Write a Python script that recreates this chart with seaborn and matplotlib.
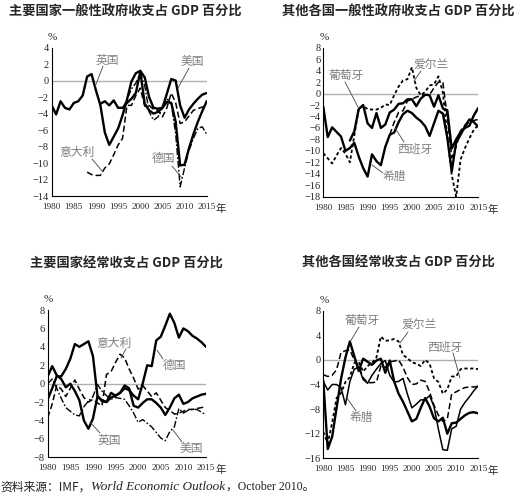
import numpy as np
import pandas as pd
import matplotlib
matplotlib.use("Agg")
import matplotlib.pyplot as plt
from matplotlib.lines import Line2D
import seaborn as sns

# --- data (percent of GDP) ---
years = list(range(1980, 2016))

# general government balance, major countries
gov_uk = [-3.0, -4.1, -2.5, -3.3, -3.5, -2.7, -2.5, -1.8, 0.5, 0.8,
          -1.2, -3.0, -6.3, -7.8, -6.8, -5.8, -4.2, -2.3, -0.1, 0.9,
          1.2, 0.4, -2.0, -3.3, -3.4, -3.3, -2.6, -2.7, -5.0, -10.3,
          -10.2, -8.2, -6.5, -5.0, -3.7, -2.5]
gov_de = [-2.8, -2.5, -3.0, -2.4, -3.3, -3.3, -2.7, -2.2, -1.5,
          1.1, -2.8, -3.6, -4.0, -3.8, -3.3, -1.6, 0.2, 0.0, -3.0,
          -4.5, -3.5, -2.8, -2.2, -1.7, -1.5]  # from 1991
gov_it = [-11.1, -11.4, -11.5, -11.5, -10.6, -10.1, -9.0, -7.8, -7.0, -3.0,
          -3.0, -1.8, -0.9, -3.1, -3.0, -3.5, -3.6, -4.4, -3.3, -1.5,
          -2.7, -5.2, -5.0, -4.3, -3.6, -3.4, -3.2, -3.1]  # from 1988
gov_us = [-3.4, -2.3, -1.0, -0.3, 0.9, -0.6, -3.8, -4.8, -4.4, -3.3,
          -2.2, -2.8, -6.5, -12.9, -10.6, -8.5, -7.0, -5.8, -5.6, -6.5]  # from 1996

# general government balance, other countries
gov_gr = [-2.3, -7.6, -5.9, -6.7, -7.5, -10.0, -9.5, -8.6, -11.0, -13.0,
          -14.5, -10.6, -11.8, -12.5, -9.3, -7.2, -6.8, -5.0, -3.6, -3.0,
          -3.4, -4.2, -4.8, -5.7, -7.4, -5.2, -3.0, -3.5, -7.7, -13.6,
          -8.5, -7.2, -5.7, -4.5, -5.0, -5.8]
gov_pt = [-8.2, -6.6, -2.7, -2.0,
          -5.2, -6.0, -3.4, -6.0, -5.4, -3.3, -2.8, -1.8, -1.7, -1.0,
          -1.0, -2.2, -0.9, -0.2, -0.3, -2.3, -0.3, -2.6, -2.9, -9.6,
          -8.0, -6.7, -6.0, -5.6, -3.8, -2.5]  # from 1986
gov_es = [-7.2, -5.0, -3.3, -3.0, -1.3,
          -1.0, -0.6, -0.4, -0.2, -0.2, 1.0, 2.0, 1.9, -4.1, -11.2,
          -9.3, -6.5, -5.5, -5.0, -4.7, -4.5]  # from 1995
gov_ie = [-10.4, -11.3, -12.2, -10.8, -9.5, -10.5, -12.0, -7.3, -2.6, -2.2,
          -2.7, -2.8, -2.8, -2.5, -1.9, -2.0, -0.3, 1.2, 2.3, 2.5,
          4.6, 1.0, -0.3, 0.3, 1.4, 1.6, 3.0, 0.2, -7.3, -14.2,
          -18.0, -11.5, -9.5, -7.8, -6.3, -5.5]

# current account, major countries
ca_de = [-1.7, -0.5, 0.8, 0.8, 1.6, 2.7, 4.3, 4.0, 4.3, 4.6,
         3.0, -1.3, -1.9, -2.0, -1.5, -1.3, -1.0, -0.5, -0.7, -1.3,
         -1.7, 0.0, 2.0, 1.9, 4.7, 5.1, 6.3, 7.6, 6.6, 5.0,
         6.0, 5.7, 5.2, 4.9, 4.5, 4.0]
ca_uk = [0.8, 1.9, 0.9, 0.5, -0.4, 0.0, -0.8, -1.8, -4.0, -4.9,
         -3.8, -1.4, -1.8, -2.0, -1.0, -1.3, -1.0, -0.2, -0.5, -2.4,
         -2.6, -2.1, -1.7, -1.7, -2.1, -2.6, -3.4, -2.6, -1.6, -1.2,
         -2.2, -2.0, -1.6, -1.4, -1.2, -1.1]
ca_it = [-3.7, -2.2, -0.2, -0.6, -1.4, -0.5, 0.4, -0.6, -1.5, -2.0,
         -1.7, -2.1, -2.4, 1.0, 1.3, 2.3, 3.2, 2.8, 1.6, 0.6,
         -0.6, -0.2, -0.8, -1.4, -1.0, -1.8, -2.6, -2.9, -3.3, -3.2,
         -3.0, -2.8, -2.8, -2.7, -2.6, -2.5]
ca_us = [0.0, 0.5, -0.5, -1.6, -2.6, -3.0, -3.4, -3.5, -2.5, -1.9,
         -1.4, -0.1, -0.8, -1.3, -1.7, -1.5, -1.6, -1.7, -2.4, -3.2,
         -4.2, -3.9, -4.3, -4.7, -5.3, -5.9, -6.2, -5.2, -4.7, -2.7,
         -3.2, -2.9, -2.8, -2.8, -3.1, -3.4]

# current account, other countries
ca_pt = [-3.4, -14.5, -12.5, -7.8, -3.1, 0.4, 3.0, 0.6, -1.8, 0.2,
         -0.3, -0.8, -0.1, 0.2, -2.1, -0.1, -3.5, -5.5, -6.8, -8.4,
         -10.0, -9.6, -7.8, -6.2, -7.6, -9.5, -10.0, -9.4, -12.0, -10.3,
         -10.2, -9.6, -9.0, -8.6, -8.5, -8.7]
ca_gr = [-3.5, -4.9, -4.0, -4.0, -4.5, -7.3, -3.5, -1.5, -1.2, -3.2,
         -3.8, -2.5, -1.5, -0.6, -0.1, -2.5, -3.6, -3.5, -3.0, -5.6,
         -7.8, -7.2, -6.5, -6.5, -5.8, -7.6, -11.3, -14.6, -14.7, -11.2,
         -10.8, -8.0, -6.9, -6.0, -5.0, -4.2]
ca_es = [-2.4, -2.7, -2.5, -1.6, 1.2, 1.5, 1.6, 0.0, -1.0, -2.9,
         -3.7, -3.7, -3.6, -1.0, -1.2, -0.3, -0.2, 0.0, -1.2, -2.9,
         -4.0, -3.9, -3.3, -3.5, -5.2, -7.4, -9.0, -10.0, -9.6, -5.5,
         -5.2, -4.8, -4.5, -4.4, -4.4, -4.3]
ca_ie = [-11.7, -13.6, -10.2, -6.2, -5.4, -3.6, -2.8, -0.5, -0.3, -1.9,
         -1.0, -0.5, 0.4, 3.8, 3.1, 3.2, 3.4, 3.0, 0.8, 0.3,
         -0.4, -0.6, -1.0, 0.0, -0.6, -3.0, -3.6, -5.5, -4.8, -2.7,
         -2.7, -1.5, -1.4, -1.4, -1.4, -1.5]

titles = ["主要国家一般性政府收支占 GDP 百分比", "其他各国一般性政府收支占 GDP 百分比",
          "主要国家经常收支占 GDP 百分比", "其他各国经常收支占 GDP 百分比"]
source_cn = "资料来源：IMF，"
source_it = "World Economic Outlook"
source_end = "，October 2010。"

# --- style ---
sns.set_theme(style="white")
CJK = ["Noto Sans CJK SC", "DejaVu Sans"]
plt.rcParams["font.family"] = CJK
plt.rcParams["axes.unicode_minus"] = True

W, H = 520, 494
fig = plt.figure(figsize=(W / 100, H / 100), dpi=100)
fig.patch.set_facecolor("white")


def px(x, y):
    return x / W, 1 - y / H


SOLID_THICK = dict(linestyle="-", lw=1.7)
SOLID = dict(linestyle="-", lw=1.1)
DASHED = dict(linestyle=(0, (4, 2)), lw=1.1)
DASHDOT = dict(linestyle=(0, (5, 1.5, 1.2, 1.5)), lw=1.0)
DOTTED = dict(linestyle=(0, (1.8, 1.4)), lw=1.3)

panels = [
    dict(box=(51.7, 47.7, 206.7, 196.0), ylim=(-14, 4), step=2, title_xy=(125, 12),
         series=[(1980, gov_uk, SOLID_THICK), (1991, gov_de, SOLID_THICK),
                 (1988, gov_it, DASHED), (1996, gov_us, DASHDOT)],
         labels=[("英国", 107, 60, (103, 66), (95, 87)),
                 ("美国", 192, 62, (189, 68), (178, 88)),
                 ("意大利", 77, 152, (92, 159), (103, 172)),
                 ("德国", 163, 158, (172, 166), (182, 178))]),
    dict(box=(323.3, 47.7, 478.3, 196.7), ylim=(-18, 8), step=2, title_xy=(398, 12),
         series=[(1980, gov_gr, SOLID_THICK), (1986, gov_pt, SOLID_THICK),
                 (1995, gov_es, DASHED), (1980, gov_ie, DOTTED)],
         labels=[("葡萄牙", 346, 75, (345, 82), (358, 107)),
                 ("爱尔兰", 431, 65, (421, 71), (414, 81)),
                 ("西班牙", 415, 149, (404, 142), (395, 128)),
                 ("希腊", 394, 176, (383, 173), (372, 165))]),
    dict(box=(47.7, 310.0, 206.0, 457.3), ylim=(-8, 8), step=2, title_xy=(126, 264),
         series=[(1980, ca_de, SOLID_THICK), (1980, ca_uk, SOLID_THICK),
                 (1980, ca_it, DASHED), (1980, ca_us, DASHDOT)],
         labels=[("意大利", 114, 343, (126, 349), (121, 358)),
                 ("德国", 174, 365, (163, 359), (157, 350)),
                 ("英国", 109, 440, (100, 433), (90, 422)),
                 ("美国", 191, 448, (182, 442), (173, 430))]),
    dict(box=(323.3, 310.7, 478.3, 458.3), ylim=(-16, 8), step=4, title_xy=(398, 263),
         series=[(1980, ca_pt, SOLID_THICK), (1980, ca_gr, SOLID),
                 (1980, ca_es, DASHED), (1980, ca_ie, DOTTED)],
         labels=[("葡萄牙", 362, 320, (359, 327), (350, 342)),
                 ("爱尔兰", 419, 325, (408, 332), (400, 343)),
                 ("西班牙", 445, 347, (453, 353), (460, 378)),
                 ("希腊", 361, 417, (356, 411), (347, 398))]),
]

for i, p in enumerate(panels):
    x0, y0, x1, y1 = p["box"]
    ax = fig.add_axes([x0 / W, 1 - y1 / H, (x1 - x0) / W, (y1 - y0) / H])
    ax.set_facecolor("white")

    # zero reference line
    ax.axhline(0, color="#b0b0b0", lw=1.0, zorder=1)

    for start, vals, st in p["series"]:
        df = pd.DataFrame({"year": years[years.index(start):years.index(start) + len(vals)],
                           "value": vals})
        sns.lineplot(data=df, x="year", y="value", ax=ax, color="black",
                     linestyle=st["linestyle"], lw=st["lw"], zorder=3)

    ymin, ymax = p["ylim"]
    ax.set_xlim(1980, 2015)
    ax.set_ylim(ymin, ymax)
    ax.set_xticks(range(1980, 2016, 5))
    ax.set_yticks(np.arange(ymin, ymax + 1, p["step"]))
    ax.set_xlabel("")
    ax.set_ylabel("")
    for s in ["top", "right"]:
        ax.spines[s].set_visible(False)
    for s in ["left", "bottom"]:
        ax.spines[s].set_color("black")
        ax.spines[s].set_linewidth(0.8)
    ax.tick_params(direction="in", length=3, width=0.7, color="black", pad=2)
    ax.tick_params(axis="x", labelsize=6.6, pad=5)
    ax.tick_params(axis="y", labelsize=7.5)
    for lab in ax.get_xticklabels() + ax.get_yticklabels():
        lab.set_family("Liberation Serif")
    ax.grid(False)

    # unit marks
    fig.text(*px(x0 + 1, y0 - 10), "%", ha="center", va="center",
             fontsize=8, family="Liberation Serif")
    fig.text(*px(x1 + 9, y1 + 13), "年", ha="left", va="center",
             fontsize=7.5, family=CJK)

    # titles
    fig.text(*px(*p["title_xy"]), titles[i], ha="center", va="center",
             fontsize=9.5, fontweight="bold", family=CJK)

    # in-chart labels with leader lines
    for txt, lx, ly, a, b in p["labels"]:
        fig.text(*px(lx, ly), txt, ha="center", va="center", fontsize=8.5,
                 color="#808080", family=CJK)
        fig.add_artist(Line2D([a[0] / W, b[0] / W], [1 - a[1] / H, 1 - b[1] / H],
                              transform=fig.transFigure, color="#444444", lw=0.6))

# source line, pieces chained one after another
renderer = fig.canvas.get_renderer()
xcur = 0.0
for txt, kw in [(source_cn, dict(fontsize=8.5, family=CJK)),
                (source_it, dict(fontsize=9.5, family="Liberation Serif", style="italic")),
                (source_end, dict(fontsize=8.5, family=["Liberation Serif", "Noto Sans CJK SC"]))]:
    t = fig.text(*px(xcur, 487), txt, ha="left", va="center", color="#222222", **kw)
    xcur += t.get_window_extent(renderer).width + 1

fig.savefig("out.png", dpi=100, facecolor="white")
